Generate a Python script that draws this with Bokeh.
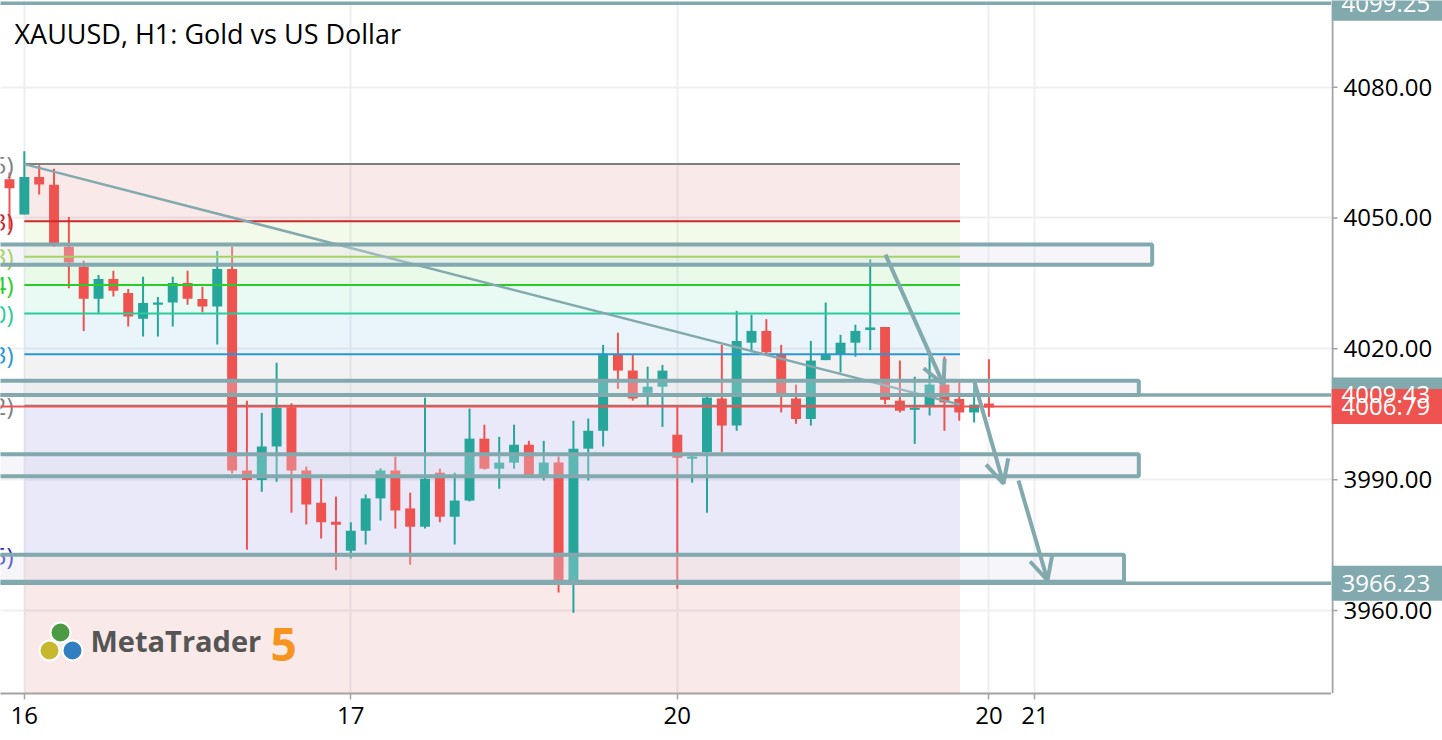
from bokeh.plotting import figure
from bokeh.layouts import row
from bokeh.models import (Range1d, FixedTicker, Arrow, OpenHead, ColumnDataSource)
from bokeh.embed import file_html
from bokeh.resources import INLINE
from bokeh.core.properties import value

# ---------------- DATA ----------------
bar_open = [4058.9, 4050.8, 4059.4, 4057.6, 4043.4, 4038.8, 4031.5, 4036.0, 4032.8, 4026.9,
            4030.1, 4030.6, 4035.1, 4031.4, 4029.7, 4038.3, 3992.1, 3989.9, 3997.6, 4006.6,
            3992.1, 3984.7, 3980.1, 3973.7, 3978.3, 3985.7, 3992.1, 3983.4, 3979.2, 3991.6,
            3981.5, 3985.2, 3999.4, 3992.5, 3993.9, 3998.0, 3991.1, 3993.9, 3966.9, 3997.1,
            4001.2, 4018.6, 4015.0, 4009.9, 4011.3, 4000.3, 3994.8, 3996.3, 4008.6, 4002.4,
            4021.4, 4024.1, 4018.6, 4008.6, 4003.9, 4017.4, 4018.8, 4021.4, 4024.3, 4025.0,
            4008.1, 4006.0, 4007.0, 4011.8, 4008.5, 4005.4, 4007.2]
bar_high = [4060.4, 4065.3, 4062.1, 4061.3, 4050.2, 4040.2, 4036.9, 4037.9, 4033.7, 4036.5,
            4031.9, 4036.5, 4037.9, 4034.2, 4042.4, 4043.4, 4008.1, 4005.3, 4016.8, 4007.5,
            3993.0, 3990.2, 3986.1, 3980.2, 3986.6, 3992.6, 3995.3, 3987.0, 4008.8, 3992.5,
            3991.6, 4006.3, 4002.6, 3999.8, 4002.6, 3998.9, 3998.9, 3995.3, 4003.5, 4004.0,
            4020.9, 4023.7, 4018.6, 4015.9, 4016.3, 4006.6, 3995.5, 4009.0, 4020.9, 4028.7,
            4027.8, 4026.8, 4020.9, 4011.8, 4021.8, 4030.6, 4023.2, 4025.5, 4040.5, 4025.0,
            4017.3, 4013.6, 4018.6, 4018.2, 4012.3, 4011.8, 4017.6]
bar_low = [4047.4, 4050.8, 4055.4, 4043.4, 4033.9, 4024.1, 4028.2, 4032.0, 4025.1, 4022.8,
           4022.8, 4025.1, 4030.1, 4028.4, 4021.0, 3991.4, 3973.9, 3987.2, 3989.5, 3982.4,
           3979.7, 3976.5, 3969.2, 3971.9, 3975.1, 3980.6, 3978.8, 3970.5, 3978.8, 3980.2,
           3975.1, 3985.0, 3992.3, 3987.9, 3992.5, 3991.0, 3989.8, 3964.1, 3959.5, 3989.8,
           3997.6, 4010.8, 4008.1, 4006.9, 4002.1, 3965.0, 3989.3, 3982.4, 3996.3, 4001.2,
           4019.2, 4018.4, 4005.4, 4002.8, 4002.4, 4017.4, 4014.6, 4018.2, 4019.7, 4007.3,
           4005.4, 3998.2, 4004.7, 4001.2, 4003.5, 4003.1, 4004.4]
bar_close = [4056.8, 4059.4, 4057.7, 4043.6, 4039.8, 4031.5, 4036.0, 4033.3, 4027.4, 4030.5,
             4030.6, 4035.1, 4031.5, 4029.7, 4038.3, 3992.1, 3989.9, 3997.6, 4006.5, 3992.1,
             3984.3, 3980.2, 3979.9, 3978.3, 3985.7, 3992.1, 3982.9, 3979.2, 3990.2, 3981.5,
             3985.2, 3999.4, 3992.5, 3993.9, 3998.0, 3991.1, 3993.9, 3966.9, 3997.1, 4001.2,
             4018.9, 4015.0, 4008.6, 4011.3, 4015.0, 3995.0, 3995.3, 4008.8, 4002.4, 4021.8,
             4024.1, 4019.2, 4009.2, 4003.9, 4017.3, 4018.8, 4021.4, 4024.1, 4024.9, 4008.3,
             4005.8, 4006.5, 4011.8, 4007.7, 4005.4, 4007.2, 4006.79]
bar_index = list(range(len(bar_close)))

day_tick_pos = [1, 23, 45, 66, 69.1]
day_tick_labels = ["16", "17", "20", "20", "21"]
price_ticks = [3960, 3990, 4020, 4050, 4080]

fib_prices = [4062.35, 4049.23, 4041.13, 4034.64, 4028.10, 4018.73, 4006.92, 3972.65, 3917.34]
fib_labels = ["0.0(4062.35)", "23.6(4049.23)", "38.2(4041.13)", "50.0(4034.64)",
              "61.8(4028.10)", "78.6(4018.73)", "100.0(4006.92)", "161.8(3972.65)",
              "261.8(3917.34)"]
fib_colors = ["#808080", "#cc2929", "#8fcc29", "#29cc29", "#29cc99", "#2996d6",
              "#808080", "#2929cc", "#cc2929"]
fib_start, fib_end = 1, 64.05
trend_end_price = 4007.2

rect_left = [-5, -5, -5, -5]
rect_right = [77.0, 76.1, 76.1, 75.1]
rect_top = [4043.9, 4012.7, 3995.8, 3972.8]
rect_bottom = [4039.3, 4009.4, 3990.8, 3966.6]

hline_prices = [4099.25, 4009.43, 3966.23]
last_price = 4006.79

arrow_x0 = [59.03, 65.03, 67.99]
arrow_y0 = [4041.6, 4012.3, 3989.8]
arrow_x1 = [62.94, 66.98, 69.95]
arrow_y1 = [4011.8, 3989.1, 3966.9]

tag_prices = [4099.25, 4009.43, 4006.79, 3966.23]
tag_kinds = ["tool", "tool", "last", "tool"]

# ---------------- LAYOUT ----------------
BAR_PX, BAR0_PX = 14.84, 9.0
FRAME_W, FRAME_H = 1331, 693
AXIS_W = 111
x_start = -BAR0_PX / BAR_PX
x_end = (FRAME_W - BAR0_PX) / BAR_PX
PX_PER_USD, Y4020 = 4.361, 348.3
y_end = 4020 + Y4020 / PX_PER_USD
y_start = 4020 - (FRAME_H - Y4020) / PX_PER_USD


def px_x(px):
    return (px - BAR0_PX) / BAR_PX


def px_y(py):
    return 4020 + (Y4020 - py) / PX_PER_USD


TEAL = "#26a69a"
RED = "#ef5350"
TOOL = "#82a9ae"
AXIS_GREY = "#a3a3a3"
FONT = "Open Sans"

yr = Range1d(y_start, y_end)
p = figure(width=FRAME_W, height=740, x_range=Range1d(x_start, x_end),
           y_range=yr, y_axis_location=None,
           output_backend="svg", toolbar_location=None,
           min_border_left=0, min_border_top=0, min_border_right=0,
           min_border_bottom=47, outline_line_color=None,
           background_fill_color="white", border_fill_color="white")

# x axis
p.xaxis.ticker = FixedTicker(ticks=day_tick_pos)
p.xaxis.major_label_overrides = {t: l for t, l in zip(day_tick_pos, day_tick_labels)}
ax = p.xaxis[0]
ax.axis_line_color = AXIS_GREY
ax.axis_line_width = 2
ax.major_tick_line_color = AXIS_GREY
ax.major_tick_line_width = 1.5
ax.major_tick_in = 0
ax.major_tick_out = 6
ax.minor_tick_line_color = None
ax.major_label_text_font = FONT
ax.major_label_text_font_size = "24px"
ax.major_label_text_color = "#000000"
ax.major_label_standoff = 7
p.xgrid.ticker = FixedTicker(ticks=day_tick_pos)
p.ygrid.ticker = FixedTicker(ticks=price_ticks)
p.grid.grid_line_color = "#efeff2"
p.grid.grid_line_width = 2

# fibonacci zones
n_z = len(fib_prices) - 1
p.quad(left=[fib_start] * n_z, right=[fib_end] * n_z, top=fib_prices[:-1],
       bottom=fib_prices[1:], fill_color=fib_colors[1:], fill_alpha=0.1,
       line_color=None)

# candles
src = ColumnDataSource(dict(
    x=bar_index, o=bar_open, h=bar_high, l=bar_low, c=bar_close,
    top=[max(o, c) + (0.25 if abs(o - c) < 0.5 else 0) for o, c in zip(bar_open, bar_close)],
    bot=[min(o, c) - (0.25 if abs(o - c) < 0.5 else 0) for o, c in zip(bar_open, bar_close)],
    col=[TEAL if c >= o else RED for o, c in zip(bar_open, bar_close)]))
p.segment(x0="x", x1="x", y0="l", y1="h", line_color="col", line_width=2, source=src)
p.vbar(x="x", width=0.67, top="top", bottom="bot", fill_color="col", line_color=None, source=src)

# fibonacci lines, labels and trend line
p.segment(x0=[fib_start] * len(fib_prices), x1=[fib_end] * len(fib_prices),
          y0=fib_prices, y1=fib_prices, line_color=fib_colors, line_width=2)
p.text(x=[px_x(13)] * len(fib_prices), y=fib_prices, text=fib_labels,
       text_color=fib_colors, text_align="right", text_baseline="middle",
       text_font=value(FONT), text_font_size="24px")
p.line(x=[fib_start, fib_end], y=[fib_prices[0], trend_end_price], line_color=TOOL,
       line_width=2.5)

# drawn rectangles and horizontal lines
p.quad(left=rect_left, right=rect_right, top=rect_top, bottom=rect_bottom,
       fill_color="#dedeee", fill_alpha=0.3, line_color=TOOL, line_width=4)
p.segment(x0=[x_start - 5] * 3, x1=[x_end + 5] * 3, y0=hline_prices, y1=hline_prices,
          line_color=TOOL, line_width=3.5)
p.segment(x0=[x_start - 5], x1=[x_end + 5], y0=[last_price], y1=[last_price],
          line_color=RED, line_width=2)

# arrows
asrc = ColumnDataSource(dict(x0=arrow_x0, y0=arrow_y0, x1=arrow_x1, y1=arrow_y1))
p.add_layout(Arrow(x_start="x0", y_start="y0", x_end="x1", y_end="y1", source=asrc,
                   line_color=TOOL, line_width=4,
                   end=OpenHead(size=23, line_color=TOOL, line_width=4)))

# logo
p.scatter(x=[px_x(60), px_x(49), px_x(72)], y=[px_y(632), px_y(650), px_y(650)],
          size=[20, 20, 20], fill_color=["#4d9a45", "#c9b82f", "#2f7fc1"],
          line_color="white", line_width=2)
p.text(x=[px_x(90)], y=[px_y(640)], text=["MetaTrader"], text_font=value(FONT),
       text_font_style="bold", text_font_size="29px", text_color="#555555",
       text_baseline="middle", text_align="left")
p.text(x=[px_x(270)], y=[px_y(644)], text=["5"], text_font=value(FONT),
       text_font_style="bold", text_font_size="46px", text_color="#f7941d",
       text_baseline="middle", text_align="left")

# title
p.text(x=[px_x(14)], y=[px_y(33)], text=["XAUUSD, H1: Gold vs US Dollar"],
       text_font=value(FONT), text_font_size="27px", text_color="#000000",
       text_baseline="middle", text_align="left")

# ---------------- PRICE SCALE (right) ----------------
s = figure(width=AXIS_W, height=740, x_range=Range1d(0, AXIS_W), y_range=yr,
           x_axis_location=None, y_axis_location=None,
           output_backend="svg", toolbar_location=None,
           min_border_left=0, min_border_top=0, min_border_right=0,
           min_border_bottom=47, outline_line_color=None,
           background_fill_color="white", border_fill_color="white")
s.grid.visible = False
s.segment(x0=[1], x1=[1], y0=[y_start], y1=[y_end], line_color=AXIS_GREY, line_width=2)
s.segment(x0=[0] * len(price_ticks), x1=[6] * len(price_ticks), y0=price_ticks,
          y1=price_ticks, line_color=AXIS_GREY, line_width=1.5)
s.text(x=[12] * len(price_ticks), y=price_ticks, text=[f"{t:.2f}" for t in price_ticks],
       text_font=value(FONT), text_font_size="24px", text_color="#000000",
       text_baseline="middle", text_align="left")
half = 17.5 / PX_PER_USD
tag_colors = [RED if k == "last" else TOOL for k in tag_kinds]
s.quad(left=[0] * len(tag_prices), right=[AXIS_W] * len(tag_prices),
       top=[t + half for t in tag_prices], bottom=[t - half for t in tag_prices],
       fill_color=tag_colors, line_color=None)
s.text(x=[10] * len(tag_prices), y=tag_prices, text=[f"{t:.2f}" for t in tag_prices],
       text_font=value(FONT), text_font_size="24px", text_color="white",
       text_baseline="middle", text_align="left")

layout = row(p, s, spacing=0)
open("out.html", "w").write(file_html(layout, INLINE))
